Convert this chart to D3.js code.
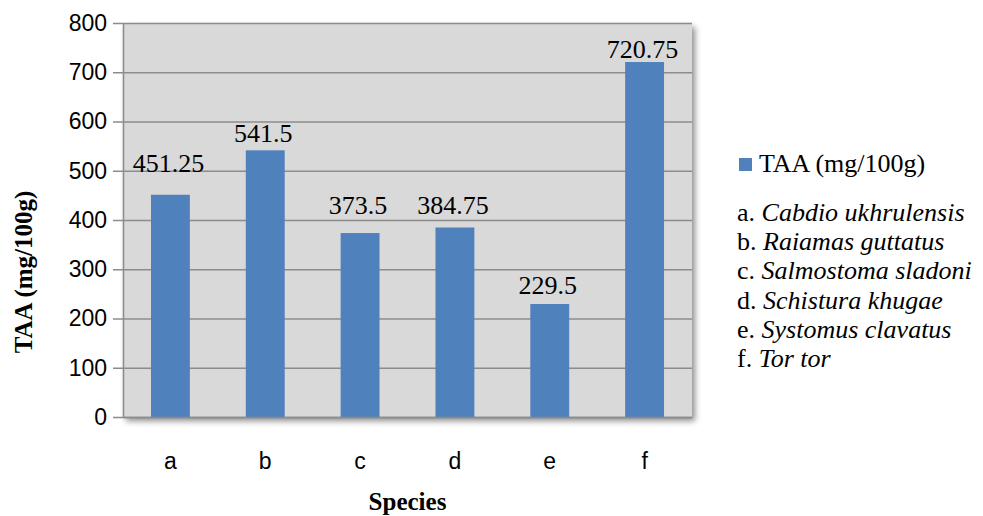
<!DOCTYPE html>
<html>
<head>
<meta charset="utf-8">
<script src="https://cdn.jsdelivr.net/npm/d3@7"></script>
<style>
  html, body { margin: 0; padding: 0; background: #fff; }
  svg { display: block; }
</style>
</head>
<body>
<svg id="chart" width="983" height="516"></svg>
<script>
// ---- data ----
const categories = ["a", "b", "c", "d", "e", "f"];
const taaValues = [451.25, 541.5, 373.5, 384.75, 229.5, 720.75];
const valueLabels = ["451.25", "541.5", "373.5", "384.75", "229.5", "720.75"];
const yTicks = [0, 100, 200, 300, 400, 500, 600, 700, 800];
const seriesName = "TAA (mg/100g)";
const speciesPrefix = ["a.", "b.", "c.", "d.", "e.", "f."];
const speciesNames = ["Cabdio ukhrulensis", "Raiamas guttatus", "Salmostoma sladoni", "Schistura khugae", "Systomus clavatus", "Tor tor"];
// label lift above bar top (layout, px)
const labelLift = [23, 8, 19, 14, 10, 4];

// ---- layout ----
const plot = { left: 123, right: 692, top: 23, bottom: 417 };
const barColor = "#4F81BD";
const serif = "'Liberation Serif', 'Times New Roman', serif";
const sans = "'Liberation Sans', Arial, sans-serif";
const svg = d3.select("#chart");

const defs = svg.append("defs");
const f = defs.append("filter").attr("id", "shadow")
  .attr("x", "-5%").attr("y", "-5%").attr("width", "115%").attr("height", "115%");
f.append("feGaussianBlur").attr("in", "SourceAlpha").attr("stdDeviation", 3).attr("result", "b");
f.append("feOffset").attr("in", "b").attr("dx", 3).attr("dy", 4).attr("result", "o");
f.append("feComponentTransfer").attr("in", "o").attr("result", "o2")
  .append("feFuncA").attr("type", "linear").attr("slope", 0.45);
const m = f.append("feMerge");
m.append("feMergeNode").attr("in", "o2");
m.append("feMergeNode").attr("in", "SourceGraphic");

const x = d3.scaleBand().domain(categories)
  .range([plot.left, plot.right]).paddingInner(0.59).paddingOuter(0.295);
const y = d3.scaleLinear().domain([0, 800]).range([plot.bottom, plot.top]);

// plot background with shadow
svg.append("rect")
  .attr("x", plot.left).attr("y", plot.top)
  .attr("width", plot.right - plot.left).attr("height", plot.bottom - plot.top)
  .attr("fill", "#D9D9D9").attr("filter", "url(#shadow)");

// y axis with gridlines
const yAxis = d3.axisLeft(y).tickValues(yTicks)
  .tickSize(-(plot.right - plot.left)).tickSizeOuter(0).tickPadding(16).tickFormat(d3.format("d"));
const gy = svg.append("g").attr("transform", `translate(${plot.left},0)`).call(yAxis);
gy.select(".domain").attr("stroke", "#8C8C8C").attr("stroke-width", 1.5);
gy.selectAll(".tick line").attr("stroke", "#8C8C8C").attr("stroke-width", 1.5)
  .attr("x1", -10);
gy.selectAll(".tick text")
  .attr("font-family", sans)
  .attr("font-size", 23).attr("fill", "#000");

// bars
svg.append("g").selectAll("rect").data(categories).join("rect")
  .attr("x", d => x(d)).attr("width", x.bandwidth())
  .attr("y", (d, i) => y(taaValues[i]))
  .attr("height", (d, i) => y(0) - y(taaValues[i]))
  .attr("fill", barColor);

// bottom axis line
const xAxis = d3.axisBottom(x).tickSize(0).tickPadding(36);
const gx = svg.append("g").attr("transform", `translate(0,${plot.bottom})`).call(xAxis);
gx.select(".domain").attr("stroke", "#8C8C8C").attr("stroke-width", 1.5);
gx.selectAll(".tick text")
  .attr("font-family", sans)
  .attr("font-size", 23).attr("fill", "#000");

// data labels
svg.append("g").selectAll("text").data(categories).join("text")
  .attr("x", d => x(d) + x.bandwidth() / 2 - 2)
  .attr("y", (d, i) => y(taaValues[i]) - labelLift[i])
  .attr("text-anchor", "middle")
  .attr("font-family", serif)
  .attr("font-size", 26).attr("fill", "#000")
  .text((d, i) => valueLabels[i]);

// axis titles
svg.append("text")
  .attr("transform", `translate(32,${(plot.top + plot.bottom) / 2 + 52}) rotate(-90)`)
  .attr("text-anchor", "middle")
  .attr("font-family", serif)
  .attr("font-weight", "bold").attr("font-size", 25).attr("fill", "#000")
  .text(seriesName);

svg.append("text")
  .attr("x", (plot.left + plot.right) / 2).attr("y", 510)
  .attr("text-anchor", "middle")
  .attr("font-family", serif)
  .attr("font-weight", "bold").attr("font-size", 25).attr("fill", "#000")
  .text("Species");

// legend
const lg = svg.append("g");
lg.append("rect").attr("x", 739).attr("y", 158).attr("width", 13).attr("height", 13).attr("fill", barColor);
lg.append("text").attr("x", 759).attr("y", 172)
  .attr("font-family", serif)
  .attr("font-size", 26).attr("fill", "#000").text(seriesName);

const items = lg.append("g").selectAll("text").data(speciesNames).join("text")
  .attr("x", 737).attr("y", (d, i) => 221 + i * 29.2)
  .attr("font-family", serif)
  .attr("font-size", 26).attr("fill", "#000");
items.append("tspan").text((d, i) => speciesPrefix[i] + " ");
items.append("tspan").attr("font-style", "italic").text(d => d);
</script>
</body>
</html>
